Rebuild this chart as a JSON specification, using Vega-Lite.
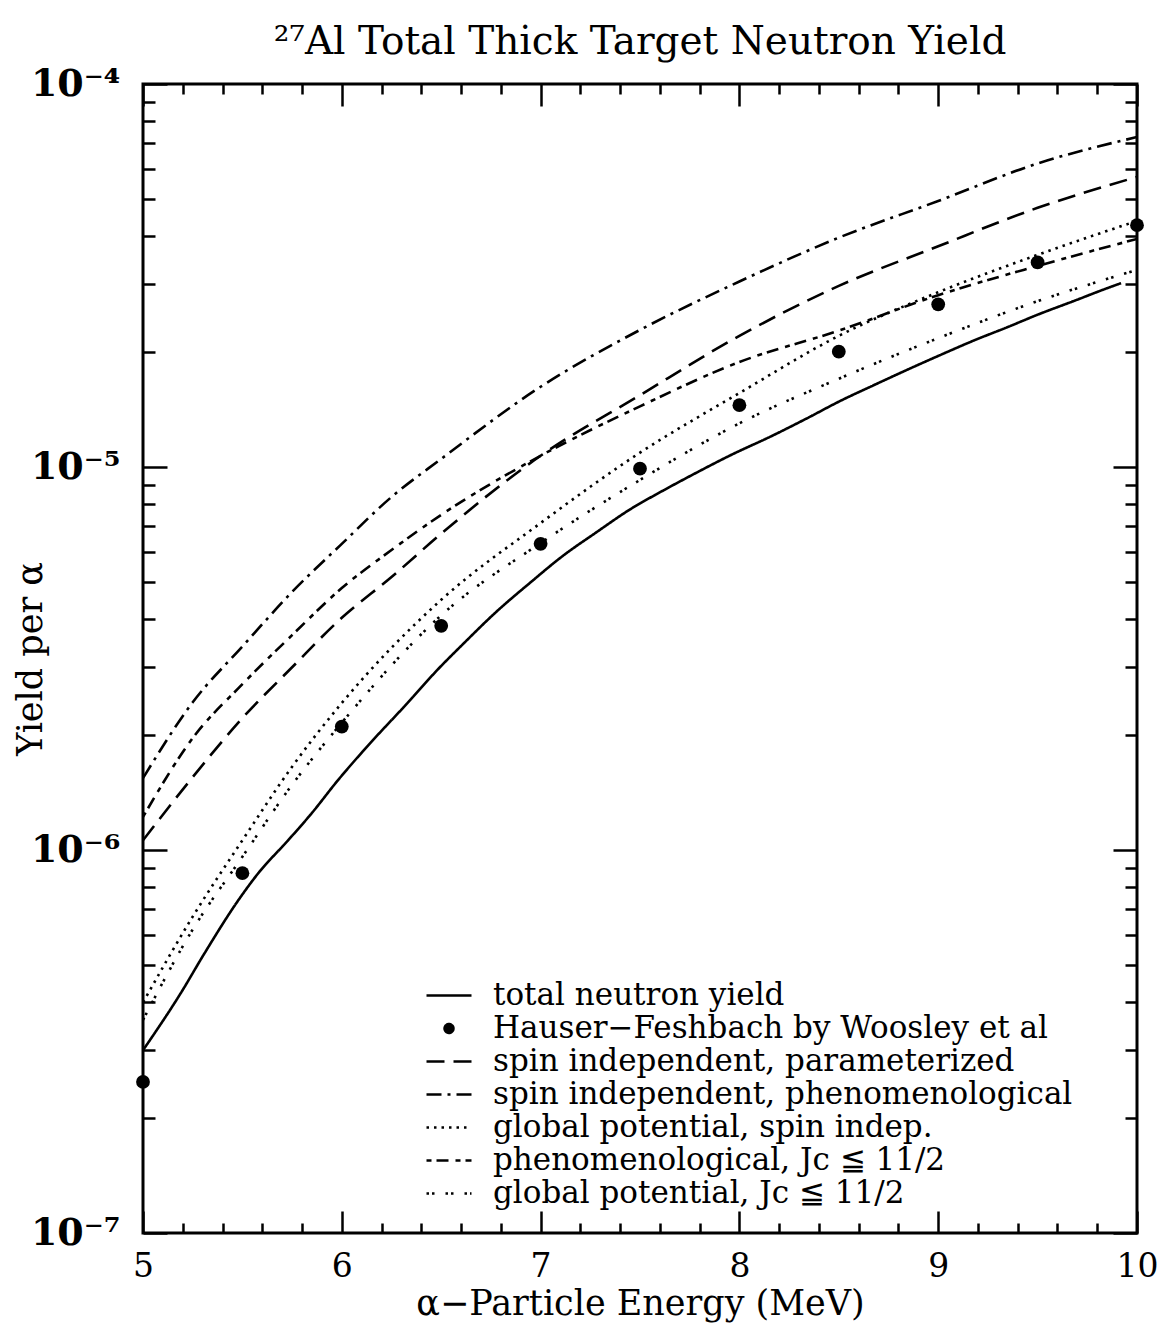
{
  "$schema": "https://vega.github.io/schema/vega-lite/v6.json",
  "width": 994,
  "height": 1149,
  "autosize": "none",
  "padding": {"left": 143, "top": 84, "right": 32, "bottom": 91},
  "background": "white",
  "title": {"text": "²⁷Al Total Thick Target Neutron Yield", "font": "DejaVu Serif", "fontSize": 39, "fontWeight": "normal", "offset": 3, "anchor": "middle", "color": "black"},
  "config": {
    "view": {"stroke": "black", "strokeWidth": 3},
    "font": "DejaVu Serif",
    "axis": {"domain": false, "grid": false, "tickColor": "black", "tickWidth": 2.5, "labelColor": "black", "titleColor": "black", "labelFont": "DejaVu Serif", "titleFont": "DejaVu Serif", "titleFontWeight": "normal", "labelFlush": false, "labelOverlap": false, "labelBound": false},
    "legend": {"labelFont": "DejaVu Serif", "labelFontSize": 31, "labelColor": "black", "symbolType": "stroke", "symbolSize": 2025, "symbolStrokeWidth": 2.5, "symbolStrokeColor": "black", "labelOffset": 20, "rowPadding": 0, "clipHeight": 33, "labelLimit": 900}
  },
  "data": {"values": [
    {"series": "total neutron yield", "energy": 5.0, "yield": 3.0e-7},
    {"series": "total neutron yield", "energy": 5.19, "yield": 4.23e-7},
    {"series": "total neutron yield", "energy": 5.31, "yield": 5.38e-7},
    {"series": "total neutron yield", "energy": 5.48, "yield": 7.4e-7},
    {"series": "total neutron yield", "energy": 5.58, "yield": 8.7e-7},
    {"series": "total neutron yield", "energy": 5.73, "yield": 1.06e-6},
    {"series": "total neutron yield", "energy": 5.85, "yield": 1.25e-6},
    {"series": "total neutron yield", "energy": 5.98, "yield": 1.52e-6},
    {"series": "total neutron yield", "energy": 6.11, "yield": 1.82e-6},
    {"series": "total neutron yield", "energy": 6.34, "yield": 2.45e-6},
    {"series": "total neutron yield", "energy": 6.48, "yield": 2.95e-6},
    {"series": "total neutron yield", "energy": 6.61, "yield": 3.45e-6},
    {"series": "total neutron yield", "energy": 6.78, "yield": 4.2e-6},
    {"series": "total neutron yield", "energy": 6.95, "yield": 5.0e-6},
    {"series": "total neutron yield", "energy": 7.11, "yield": 5.85e-6},
    {"series": "total neutron yield", "energy": 7.28, "yield": 6.75e-6},
    {"series": "total neutron yield", "energy": 7.45, "yield": 7.75e-6},
    {"series": "total neutron yield", "energy": 7.62, "yield": 8.7e-6},
    {"series": "total neutron yield", "energy": 7.79, "yield": 9.7e-6},
    {"series": "total neutron yield", "energy": 7.95, "yield": 1.07e-5},
    {"series": "total neutron yield", "energy": 8.17, "yield": 1.21e-5},
    {"series": "total neutron yield", "energy": 8.34, "yield": 1.34e-5},
    {"series": "total neutron yield", "energy": 8.51, "yield": 1.49e-5},
    {"series": "total neutron yield", "energy": 8.67, "yield": 1.63e-5},
    {"series": "total neutron yield", "energy": 8.84, "yield": 1.79e-5},
    {"series": "total neutron yield", "energy": 9.01, "yield": 1.96e-5},
    {"series": "total neutron yield", "energy": 9.18, "yield": 2.14e-5},
    {"series": "total neutron yield", "energy": 9.35, "yield": 2.32e-5},
    {"series": "total neutron yield", "energy": 9.51, "yield": 2.51e-5},
    {"series": "total neutron yield", "energy": 9.68, "yield": 2.71e-5},
    {"series": "total neutron yield", "energy": 9.85, "yield": 2.93e-5},
    {"series": "total neutron yield", "energy": 9.92, "yield": 3.02e-5},

    {"series": "Hauser−Feshbach by Woosley et al", "energy": 5.0, "yield": 2.48e-7},
    {"series": "Hauser−Feshbach by Woosley et al", "energy": 5.5, "yield": 8.7e-7},
    {"series": "Hauser−Feshbach by Woosley et al", "energy": 6.0, "yield": 2.1e-6},
    {"series": "Hauser−Feshbach by Woosley et al", "energy": 6.5, "yield": 3.85e-6},
    {"series": "Hauser−Feshbach by Woosley et al", "energy": 7.0, "yield": 6.3e-6},
    {"series": "Hauser−Feshbach by Woosley et al", "energy": 7.5, "yield": 9.9e-6},
    {"series": "Hauser−Feshbach by Woosley et al", "energy": 8.0, "yield": 1.45e-5},
    {"series": "Hauser−Feshbach by Woosley et al", "energy": 8.5, "yield": 2.0e-5},
    {"series": "Hauser−Feshbach by Woosley et al", "energy": 9.0, "yield": 2.66e-5},
    {"series": "Hauser−Feshbach by Woosley et al", "energy": 9.5, "yield": 3.42e-5},
    {"series": "Hauser−Feshbach by Woosley et al", "energy": 10.0, "yield": 4.28e-5},

    {"series": "spin independent, parameterized", "energy": 5.0, "yield": 1.06e-6},
    {"series": "spin independent, parameterized", "energy": 5.25, "yield": 1.55e-6},
    {"series": "spin independent, parameterized", "energy": 5.5, "yield": 2.21e-6},
    {"series": "spin independent, parameterized", "energy": 5.75, "yield": 3.0e-6},
    {"series": "spin independent, parameterized", "energy": 6.0, "yield": 4.04e-6},
    {"series": "spin independent, parameterized", "energy": 6.25, "yield": 5.16e-6},
    {"series": "spin independent, parameterized", "energy": 6.5, "yield": 6.7e-6},
    {"series": "spin independent, parameterized", "energy": 7.0, "yield": 1.07e-5},
    {"series": "spin independent, parameterized", "energy": 7.5, "yield": 1.54e-5},
    {"series": "spin independent, parameterized", "energy": 8.0, "yield": 2.2e-5},
    {"series": "spin independent, parameterized", "energy": 8.5, "yield": 2.97e-5},
    {"series": "spin independent, parameterized", "energy": 9.0, "yield": 3.77e-5},
    {"series": "spin independent, parameterized", "energy": 9.5, "yield": 4.75e-5},
    {"series": "spin independent, parameterized", "energy": 10.0, "yield": 5.72e-5},

    {"series": "spin independent, phenomenological", "energy": 5.0, "yield": 1.54e-6},
    {"series": "spin independent, phenomenological", "energy": 5.25, "yield": 2.43e-6},
    {"series": "spin independent, phenomenological", "energy": 5.5, "yield": 3.4e-6},
    {"series": "spin independent, phenomenological", "energy": 5.75, "yield": 4.72e-6},
    {"series": "spin independent, phenomenological", "energy": 6.0, "yield": 6.3e-6},
    {"series": "spin independent, phenomenological", "energy": 6.25, "yield": 8.35e-6},
    {"series": "spin independent, phenomenological", "energy": 6.5, "yield": 1.05e-5},
    {"series": "spin independent, phenomenological", "energy": 7.0, "yield": 1.62e-5},
    {"series": "spin independent, phenomenological", "energy": 7.5, "yield": 2.28e-5},
    {"series": "spin independent, phenomenological", "energy": 8.0, "yield": 3.05e-5},
    {"series": "spin independent, phenomenological", "energy": 8.5, "yield": 3.97e-5},
    {"series": "spin independent, phenomenological", "energy": 9.0, "yield": 4.95e-5},
    {"series": "spin independent, phenomenological", "energy": 9.5, "yield": 6.2e-5},
    {"series": "spin independent, phenomenological", "energy": 10.0, "yield": 7.27e-5},

    {"series": "global potential, spin indep.", "energy": 5.0, "yield": 4.0e-7},
    {"series": "global potential, spin indep.", "energy": 5.25, "yield": 6.7e-7},
    {"series": "global potential, spin indep.", "energy": 5.5, "yield": 1.06e-6},
    {"series": "global potential, spin indep.", "energy": 5.75, "yield": 1.65e-6},
    {"series": "global potential, spin indep.", "energy": 6.0, "yield": 2.42e-6},
    {"series": "global potential, spin indep.", "energy": 6.5, "yield": 4.5e-6},
    {"series": "global potential, spin indep.", "energy": 7.0, "yield": 7.14e-6},
    {"series": "global potential, spin indep.", "energy": 7.5, "yield": 1.09e-5},
    {"series": "global potential, spin indep.", "energy": 8.0, "yield": 1.56e-5},
    {"series": "global potential, spin indep.", "energy": 8.5, "yield": 2.2e-5},
    {"series": "global potential, spin indep.", "energy": 9.0, "yield": 2.86e-5},
    {"series": "global potential, spin indep.", "energy": 9.5, "yield": 3.58e-5},
    {"series": "global potential, spin indep.", "energy": 10.0, "yield": 4.39e-5},

    {"series": "phenomenological, Jc ≦ 11/2", "energy": 5.0, "yield": 1.22e-6},
    {"series": "phenomenological, Jc ≦ 11/2", "energy": 5.25, "yield": 1.96e-6},
    {"series": "phenomenological, Jc ≦ 11/2", "energy": 5.5, "yield": 2.71e-6},
    {"series": "phenomenological, Jc ≦ 11/2", "energy": 5.75, "yield": 3.64e-6},
    {"series": "phenomenological, Jc ≦ 11/2", "energy": 6.0, "yield": 4.83e-6},
    {"series": "phenomenological, Jc ≦ 11/2", "energy": 6.25, "yield": 6.07e-6},
    {"series": "phenomenological, Jc ≦ 11/2", "energy": 6.5, "yield": 7.5e-6},
    {"series": "phenomenological, Jc ≦ 11/2", "energy": 7.0, "yield": 1.07e-5},
    {"series": "phenomenological, Jc ≦ 11/2", "energy": 7.5, "yield": 1.44e-5},
    {"series": "phenomenological, Jc ≦ 11/2", "energy": 8.0, "yield": 1.88e-5},
    {"series": "phenomenological, Jc ≦ 11/2", "energy": 8.5, "yield": 2.27e-5},
    {"series": "phenomenological, Jc ≦ 11/2", "energy": 9.0, "yield": 2.81e-5},
    {"series": "phenomenological, Jc ≦ 11/2", "energy": 9.5, "yield": 3.35e-5},
    {"series": "phenomenological, Jc ≦ 11/2", "energy": 10.0, "yield": 3.94e-5},

    {"series": "global potential, Jc ≦ 11/2", "energy": 5.0, "yield": 3.6e-7},
    {"series": "global potential, Jc ≦ 11/2", "energy": 5.25, "yield": 6.2e-7},
    {"series": "global potential, Jc ≦ 11/2", "energy": 5.5, "yield": 9.6e-7},
    {"series": "global potential, Jc ≦ 11/2", "energy": 5.75, "yield": 1.48e-6},
    {"series": "global potential, Jc ≦ 11/2", "energy": 6.0, "yield": 2.15e-6},
    {"series": "global potential, Jc ≦ 11/2", "energy": 6.5, "yield": 4.1e-6},
    {"series": "global potential, Jc ≦ 11/2", "energy": 7.0, "yield": 6.33e-6},
    {"series": "global potential, Jc ≦ 11/2", "energy": 7.5, "yield": 9.25e-6},
    {"series": "global potential, Jc ≦ 11/2", "energy": 8.0, "yield": 1.3e-5},
    {"series": "global potential, Jc ≦ 11/2", "energy": 8.5, "yield": 1.7e-5},
    {"series": "global potential, Jc ≦ 11/2", "energy": 9.0, "yield": 2.17e-5},
    {"series": "global potential, Jc ≦ 11/2", "energy": 9.5, "yield": 2.71e-5},
    {"series": "global potential, Jc ≦ 11/2", "energy": 10.0, "yield": 3.27e-5}
  ]},
  "layer": [
    {
      "transform": [{"filter": "datum.series !== 'Hauser−Feshbach by Woosley et al'"}],
      "mark": {"type": "line", "color": "black", "strokeWidth": 2.6, "interpolate": "monotone", "clip": true},
      "encoding": {
        "x": {"field": "energy", "type": "quantitative", "scale": {"domain": [5, 10], "nice": false, "zero": false},
          "axis": {"orient": "bottom", "values": [5,5.2,5.4,5.6,5.8,6,6.2,6.4,6.6,6.8,7,7.2,7.4,7.6,7.8,8,8.2,8.4,8.6,8.8,9,9.2,9.4,9.6,9.8,10],
            "labelExpr": "abs(datum.value - round(datum.value)) < 0.01 ? format(datum.value, 'd') : ''",
            "tickSize": {"condition": {"test": "abs(datum.value - round(datum.value)) < 0.01", "value": -22}, "value": -10},
            "labelPadding": 39, "labelFontSize": 33, "title": "α−Particle Energy (MeV)", "titleFontSize": 35, "titlePadding": -9}},
        "y": {"field": "yield", "type": "quantitative", "scale": {"type": "log", "domain": [1e-7, 1e-4], "nice": false},
          "axis": {"orient": "left", "values": [1e-7,2e-7,3e-7,4e-7,5e-7,6e-7,7e-7,8e-7,9e-7,1e-6,2e-6,3e-6,4e-6,5e-6,6e-6,7e-6,8e-6,9e-6,1e-5,2e-5,3e-5,4e-5,5e-5,6e-5,7e-5,8e-5,9e-5,1e-4],
            "labelExpr": "abs(log(datum.value)/LN10 - round(log(datum.value)/LN10)) < 0.01 ? (round(log(datum.value)/LN10) == -4 ? '10⁻⁴' : round(log(datum.value)/LN10) == -5 ? '10⁻⁵' : round(log(datum.value)/LN10) == -6 ? '10⁻⁶' : '10⁻⁷') : ''",
            "tickSize": {"condition": {"test": "abs(log(datum.value)/LN10 - round(log(datum.value)/LN10)) < 0.01", "value": -24}, "value": -12},
            "labelPadding": 47, "labelFontSize": 38, "labelFontWeight": "bold", "title": "Yield per α", "titleFontSize": 35, "titlePadding": -18}},
        "strokeDash": {"field": "series", "type": "nominal",
          "scale": {"domain": ["total neutron yield", "Hauser−Feshbach by Woosley et al", "spin independent, parameterized", "spin independent, phenomenological", "global potential, spin indep.", "phenomenological, Jc ≦ 11/2", "global potential, Jc ≦ 11/2"],
            "range": [[1, 0], [1, 0], [18, 9], [15, 6, 3, 6], [2.5, 5], [5, 5, 12, 7], [2.5, 3, 2.5, 11]]},
          "legend": {"title": null, "orient": "none", "legendX": 282, "legendY": 895,
            "encode": {"symbols": {"update": {
              "shape": {"signal": "datum.value === 'Hauser−Feshbach by Woosley et al' ? 'circle' : 'stroke'"},
              "size": {"signal": "datum.value === 'Hauser−Feshbach by Woosley et al' ? 80 : 2025"},
              "fill": {"signal": "datum.value === 'Hauser−Feshbach by Woosley et al' ? 'black' : 'transparent'"},
              "stroke": {"value": "black"},
              "strokeWidth": {"value": 2.5},
              "opacity": {"value": 1}}}}}}
      }
    },
    {
      "transform": [{"filter": "datum.series === 'Hauser−Feshbach by Woosley et al'"}],
      "mark": {"type": "point", "filled": true, "shape": "circle", "size": 190, "color": "black", "opacity": 1, "clip": false},
      "encoding": {
        "x": {"field": "energy", "type": "quantitative",
          "axis": {"orient": "top", "values": [5,5.2,5.4,5.6,5.8,6,6.2,6.4,6.6,6.8,7,7.2,7.4,7.6,7.8,8,8.2,8.4,8.6,8.8,9,9.2,9.4,9.6,9.8,10],
            "labels": false, "title": null,
            "tickSize": {"condition": {"test": "abs(datum.value - round(datum.value)) < 0.01", "value": -22}, "value": -10}}},
        "y": {"field": "yield", "type": "quantitative",
          "axis": {"orient": "right", "values": [1e-7,2e-7,3e-7,4e-7,5e-7,6e-7,7e-7,8e-7,9e-7,1e-6,2e-6,3e-6,4e-6,5e-6,6e-6,7e-6,8e-6,9e-6,1e-5,2e-5,3e-5,4e-5,5e-5,6e-5,7e-5,8e-5,9e-5,1e-4],
            "labels": false, "title": null,
            "tickSize": {"condition": {"test": "abs(log(datum.value)/LN10 - round(log(datum.value)/LN10)) < 0.01", "value": -24}, "value": -12}}}
      }
    }
  ],
  "resolve": {"axis": {"x": "independent", "y": "independent"}}
}
